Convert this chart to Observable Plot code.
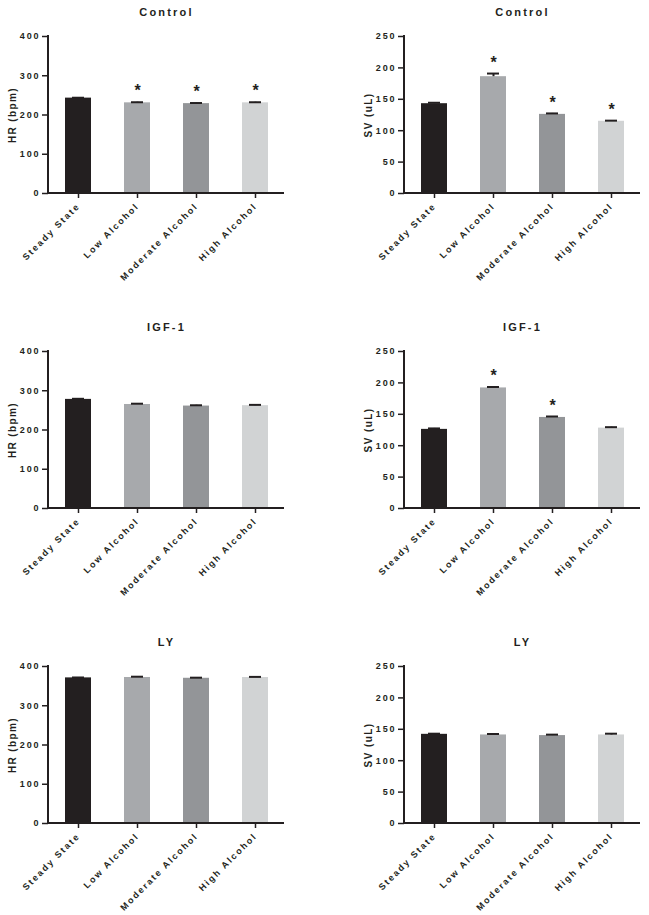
<!DOCTYPE html>
<html>
<head>
<meta charset="utf-8">
<script src="https://cdn.jsdelivr.net/npm/d3@7"></script>
<script src="https://cdn.jsdelivr.net/npm/@observablehq/plot@0.6"></script>
<style>
  html, body { margin: 0; padding: 0; background: #fff; }
  #grid { display: grid; grid-template-columns: 324px 325px; grid-template-rows: 315px 315px 285px; width: 649px; }
  #grid svg { display: block; overflow: visible; }
</style>
</head>
<body>
<div id="grid"></div>
<script>
const categories = ["Steady State", "Low Alcohol", "Moderate Alcohol", "High Alcohol"];
const barColors = ["#231f20", "#a7a9ac", "#939598", "#d1d3d4"];

const hrTicks = [0, 100, 200, 300, 400];
const svTicks = [0, 50, 100, 150, 200, 250];

// Control
const hrControl = [243, 231, 229, 231];
const hrControlErr = [1, 1.5, 1.5, 1.5];
const hrControlSig = [false, true, true, true];
const svControl = [143, 186, 126, 115];
const svControlErr = [1.5, 5, 1.5, 1];
const svControlSig = [false, true, true, true];

// IGF-1
const hrIGF = [278, 265, 261, 262];
const hrIGFErr = [1.5, 2, 2, 2];
const hrIGFSig = [false, false, false, false];
const svIGF = [126, 192, 145, 128];
const svIGFErr = [1.5, 1.5, 1.5, 1.5];
const svIGFSig = [false, true, true, false];

// LY
const hrLY = [371, 372, 370, 372];
const hrLYErr = [1, 2, 1.5, 1.5];
const hrLYSig = [false, false, false, false];
const svLY = [142, 141, 140, 141];
const svLYErr = [1, 1.5, 1.5, 2];
const svLYSig = [false, false, false, false];

const ink = "#231f20";

function panel({title, yLabel, values, err, sig, ticks, left, height}) {
  const data = categories.map((c, i) => ({cat: c, v: values[i], top: values[i] + err[i], sig: sig[i]}));
  const marginTop = 36;
  const marginBottom = height - 193;
  const axisLines = (index, scales, values, dim) => {
    const g = d3.create("svg:g");
    const x0 = dim.marginLeft, x1 = dim.width - dim.marginRight;
    const y0 = dim.marginTop, y1 = dim.height - dim.marginBottom;
    g.append("line").attr("x1", x0).attr("x2", x0).attr("y1", y0 - 1).attr("y2", y1 + 1)
      .attr("stroke", ink).attr("stroke-width", 2);
    g.append("line").attr("x1", x0 - 1).attr("x2", x1).attr("y1", y1).attr("y2", y1)
      .attr("stroke", ink).attr("stroke-width", 2);
    return g.node();
  };
  const svg = Plot.plot({
    width: left ? 324 : 325,
    height,
    marginLeft: left ? 48 : 80,
    marginRight: left ? 40 : 9,
    marginTop,
    marginBottom,
    style: {fontFamily: "'Liberation Sans', Arial, sans-serif", fontSize: "9px", fontWeight: "bold", color: ink, background: "white", overflow: "visible"},
    x: {domain: categories, paddingInner: 0.56, paddingOuter: 0.28},
    y: {domain: [0, ticks[ticks.length - 1]]},
    color: {domain: categories, range: barColors},
    marks: [
      Plot.barY(data, {x: "cat", y: "v", fill: "cat"}),
      Plot.ruleX(data, {x: "cat", y1: "v", y2: "top", stroke: ink, strokeWidth: 2}),
      Plot.tickY(data, {x: "cat", y: "top", stroke: ink, strokeWidth: 2, insetLeft: 7, insetRight: 7}),
      Plot.text(data.filter(d => d.sig), {x: "cat", y: "top", text: () => "*", dy: -11, fontSize: 16, fontWeight: "bold", fill: ink}),
      Plot.axisY({ticks, tickSize: 6, tickPadding: 2, label: null, tickFormat: d => String(d), stroke: ink, strokeWidth: 1.5}),
      Plot.axisX({tickSize: 5, tickRotate: -45, tickPadding: 6, label: null, stroke: ink, strokeWidth: 1.5}),
      axisLines,
      Plot.text([yLabel], {frameAnchor: "left", dx: -36, rotate: -90, textAnchor: "middle", lineAnchor: "middle", fontSize: 10, fontWeight: "bold", fill: ink}),
      Plot.text([title], {frameAnchor: "top", dy: -24, lineAnchor: "middle", fontSize: 11, fontWeight: "bold", fill: ink})
    ]
  });
  const s = d3.select(svg);
  s.selectAll("[aria-label='x-axis tick label'] text, [aria-label='y-axis tick label'] text").style("letter-spacing", "1.9px");
  s.selectAll("text").filter(function () { return this.textContent === title; }).style("letter-spacing", "2.2px");
  s.selectAll("text").filter(function () { return this.textContent === yLabel; }).style("letter-spacing", "1.4px");
  return svg;
}

const grid = document.getElementById("grid");
const panels = [
  {title: "Control", yLabel: "HR (bpm)", values: hrControl, err: hrControlErr, sig: hrControlSig, ticks: hrTicks, left: true, height: 315},
  {title: "Control", yLabel: "SV (uL)", values: svControl, err: svControlErr, sig: svControlSig, ticks: svTicks, left: false, height: 315},
  {title: "IGF-1", yLabel: "HR (bpm)", values: hrIGF, err: hrIGFErr, sig: hrIGFSig, ticks: hrTicks, left: true, height: 315},
  {title: "IGF-1", yLabel: "SV (uL)", values: svIGF, err: svIGFErr, sig: svIGFSig, ticks: svTicks, left: false, height: 315},
  {title: "LY", yLabel: "HR (bpm)", values: hrLY, err: hrLYErr, sig: hrLYSig, ticks: hrTicks, left: true, height: 285},
  {title: "LY", yLabel: "SV (uL)", values: svLY, err: svLYErr, sig: svLYSig, ticks: svTicks, left: false, height: 285}
];
for (const p of panels) grid.appendChild(panel(p));
</script>
</body>
</html>
